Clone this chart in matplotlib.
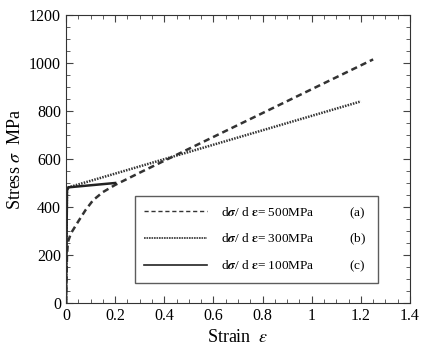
import matplotlib
matplotlib.use('Agg')
import matplotlib.pyplot as plt
from matplotlib.lines import Line2D
from matplotlib.ticker import MultipleLocator

plt.rcParams['font.family'] = ['Liberation Serif', 'DejaVu Serif']
plt.rcParams['mathtext.fontset'] = 'stix'

# curve (a): d sigma / d eps = 500 MPa
strain_a = [0, 0.004, 0.008, 0.02, 0.05, 0.08, 0.11, 0.15, 0.2, 0.3, 1.25]
stress_a = [0, 200, 255, 290, 340, 388, 428, 462, 492, 543, 1015]
# curve (b): 300 MPa
strain_b = [0, 0.004, 0.01, 1.2]
stress_b = [0, 470, 482, 840]
# curve (c): 100 MPa
strain_c = [0, 0.004, 0.01, 0.2]
stress_c = [0, 470, 482, 500]

labels = [r'd$\boldsymbol{\sigma}$/ d $\boldsymbol{\varepsilon}$= 500MPa           (a)',
          r'd$\boldsymbol{\sigma}$/ d $\boldsymbol{\varepsilon}$= 300MPa           (b)',
          r'd$\boldsymbol{\sigma}$/ d $\boldsymbol{\varepsilon}$= 100MPa           (c)']

fig = plt.figure(figsize=(4.22, 3.49), dpi=100)
ax = fig.add_axes([66 / 422, 1 - 303 / 349, 344 / 422, 288 / 349])

ax.plot(strain_a, stress_a, color='#333333', lw=1.8, dashes=(2.5, 1.6))
ax.plot(strain_b, stress_b, color='#333333', lw=1.8, dashes=(0.6, 0.5))
ax.plot(strain_c, stress_c, color='#222222', lw=1.8)

ax.set_xlim(0, 1.4)
ax.set_ylim(0, 1200)
ax.xaxis.set_major_locator(MultipleLocator(0.2))
ax.xaxis.set_minor_locator(MultipleLocator(0.05))
ax.yaxis.set_major_locator(MultipleLocator(200))
ax.yaxis.set_minor_locator(MultipleLocator(50))
ax.set_xticks([0, 0.2, 0.4, 0.6, 0.8, 1.0, 1.2, 1.4])
ax.set_xticklabels(['0', '0.2', '0.4', '0.6', '0.8', '1', '1.2', '1.4'])
ax.tick_params(which='both', direction='in', top=True, right=True, labelsize=11.5, color='#444444')
ax.tick_params(which='major', length=5)
ax.tick_params(which='minor', length=3)
for s in ax.spines.values():
    s.set_color('#333333')

ax.set_xlabel(r'Strain  $\varepsilon$', fontsize=13)
ax.set_ylabel(r'Stress $\sigma$  MPa', fontsize=13)

handles = [Line2D([], [], color='#333333', lw=1, dashes=(3, 2)),
           Line2D([], [], color='#333333', lw=1.2, dashes=(1, 0.5)),
           Line2D([], [], color='#222222', lw=1.2)]
leg = ax.legend(handles, labels, loc='lower left', bbox_to_anchor=(0.2, 0.069, 0.707, 0.3),
                mode='expand', fancybox=False, edgecolor='#333333', fontsize=9.5,
                handlelength=4.8, handletextpad=1.0, labelspacing=0.85, borderpad=0.7,
                borderaxespad=0)
leg.get_frame().set_linewidth(1.0)

fig.savefig('out.png', dpi=100)
